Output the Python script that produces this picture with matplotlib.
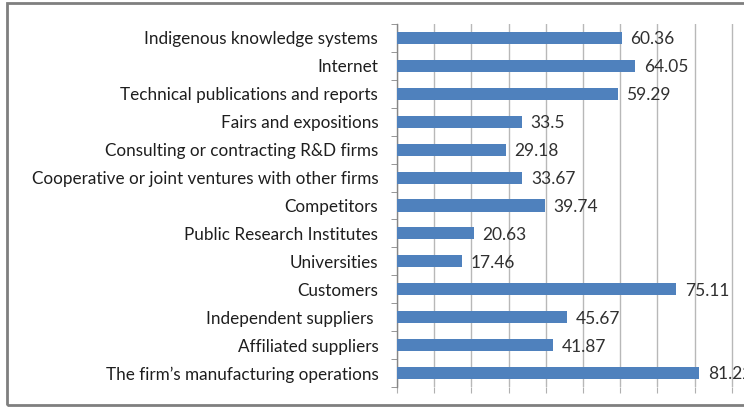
import matplotlib
matplotlib.use("Agg")
import matplotlib.pyplot as plt
from matplotlib.patches import Rectangle
import numpy as np

# categories top -> bottom, as in the source chart
categories = [
    "Indigenous knowledge systems",
    "Internet",
    "Technical publications and reports",
    "Fairs and expositions",
    "Consulting or contracting R&D firms",
    "Cooperative or joint ventures with other firms",
    "Competitors",
    "Public Research Institutes",
    "Universities",
    "Customers",
    "Independent suppliers ",
    "Affiliated suppliers",
    "The firm\u2019s manufacturing operations",
]
values = [60.36, 64.05, 59.29, 33.5, 29.18, 33.67, 39.74,
          20.63, 17.46, 75.11, 45.67, 41.87, 81.22]
value_labels = ["60.36", "64.05", "59.29", "33.5", "29.18", "33.67", "39.74",
                "20.63", "17.46", "75.11", "45.67", "41.87", "81.22"]

W, H = 744, 408
fig = plt.figure(figsize=(W / 100, H / 100), dpi=100)
plt.rcParams["font.family"] = ["Lato", "DejaVu Sans"]

# plot area: left spine at x=397 px, top at y=24, bottom at y=387; xlim 0-100
ax = fig.add_axes([397 / W, (H - 387) / H, 372 / W, 363 / H])

n = len(categories)
ypos = np.arange(n)[::-1]
ax.barh(ypos, values, height=0.43, color="#4F81BD", zorder=3)

# value labels; the last one runs off the cropped right edge as in the source
for y, v, lab in zip(ypos, values, value_labels):
    ax.text(v + 2.4, y - 0.05, lab, va="center", ha="left",
            fontsize=12.5, color="#303030", zorder=4)

ax.set_xlim(0, 100)
ax.set_ylim(-0.5, n - 0.5)
ax.set_yticks(ypos)
ax.set_yticklabels(categories, fontsize=12.3, color="#1E1E1E")
ax.set_yticks(np.arange(-0.5, n, 1.0), minor=True)
ax.tick_params(axis="y", which="major", length=0, pad=13.5)
ax.tick_params(axis="y", which="minor", length=4, color="#868686", direction="out")

ax.set_xticks(np.arange(0, 101, 10))
ax.tick_params(axis="x", which="major", length=4, color="#B0B0B0",
               labelbottom=False, direction="out")
ax.grid(axis="x", color="#B8B8B8", linewidth=1.0, zorder=0)

for side in ("top", "right", "bottom"):
    ax.spines[side].set_visible(False)
ax.spines["left"].set_color("#868686")
ax.spines["left"].set_linewidth(1.0)

# outer chart border (right edge falls outside the cropped image)
fig.patches.append(Rectangle((7 / W, 3 / H), 800 / W, 402 / H,
                             transform=fig.transFigure, fill=False,
                             edgecolor="#7F7F7F", linewidth=2.0))

fig.savefig("out.png", dpi=100)
